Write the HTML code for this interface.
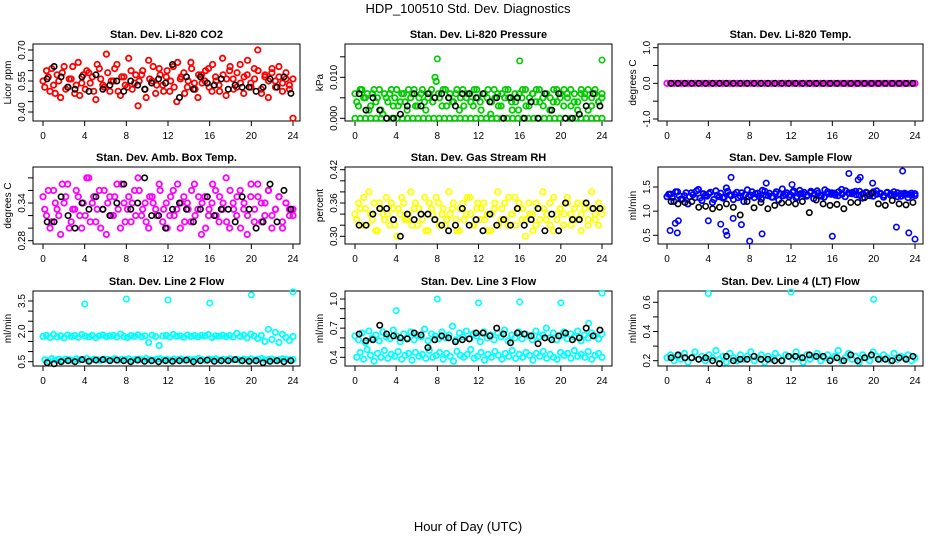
<!DOCTYPE html>
<html><head><meta charset="utf-8">
<style>
html,body{margin:0;padding:0;background:#fff;}
svg{display:block;font-family:"Liberation Sans",sans-serif;}
</style></head>
<body>
<svg id="chart" width="936" height="540" viewBox="0 0 936 540">
<text x="468" y="13" text-anchor="middle" font-size="13">HDP_100510  Std. Dev. Diagnostics</text>
<text x="468" y="531" text-anchor="middle" font-size="13">Hour of Day (UTC)</text>
</svg>
<script>
// ---- data ----
const hourTicks = [0,4,8,12,16,20,24];
const p1Color = [0.55,0.60,0.50,0.53,0.58,0.47,0.62,0.52,0.56,0.49,0.64,0.54,0.51,0.59,0.57,0.46,0.61,0.53,0.68,0.50,0.55,0.63,0.48,0.57,0.52,0.60,0.54,0.43,0.58,0.51,0.65,0.55,0.49,0.61,0.53,0.57,0.50,0.62,0.45,0.56,0.59,0.52,0.64,0.54,0.47,0.58,0.55,0.61,0.50,0.57,0.53,0.66,0.48,0.60,0.56,0.52,0.63,0.49,0.58,0.54,0.61,0.70,0.51,0.57,0.47,0.59,0.55,0.62,0.50,0.56,0.53,0.37];
const p1Color2 = [0.52,0.57,0.61,0.49,0.55,0.59,0.51,0.56,0.62,0.53,0.48,0.58,0.60,0.54,0.50,0.63,0.56,0.52,0.59,0.55,0.61,0.50,0.57,0.53,0.66,0.51,0.58,0.55,0.60,0.47,0.56,0.62,0.53,0.58,0.50,0.60,0.55,0.52,0.64,0.57,0.49,0.55,0.61,0.51,0.58,0.54,0.60,0.52,0.63,0.55,0.50,0.58,0.56,0.62,0.51,0.59,0.54,0.57,0.65,0.52,0.56,0.60,0.49,0.58,0.55,0.61,0.52,0.57,0.54,0.59,0.51,0.56];
const p1Black = [0.56,0.62,0.57,0.52,0.51,0.57,0.50,0.58,0.51,0.53,0.55,0.50,0.55,0.53,0.51,0.54,0.56,0.54,0.63,0.47,0.57,0.51,0.57,0.54,0.53,0.56,0.51,0.53,0.52,0.52,0.50,0.52,0.56,0.52,0.57,0.49];
const p2Color = [0.006,0.003,0.007,0.005,0.002,0.006,0.004,0.007,0.001,0.005,0.006,0.003,0.007,0.004,0.006,0.002,0.005,0.007,0.003,0.006,0.004,0.005,0.007,0.010,0.006,0.003,0.007,0.005,0.004,0.006,0.002,0.007,0.005,0.006,0.003,0.007,0.004,0.006,0.005,0.001,0.007,0.006,0.003,0.005,0.007,0.004,0.006,0.002,0.005,0.007,0.003,0.006,0.004,0.007,0.005,0.006,0.002,0.004,0.007,0.005,0.003,0.006,0.007,0.004,0.002,0.006,0.005,0.007,0.003,0.006,0.004,0.005];
const p2Color2 = [0.004,0.007,0.005,0.006,0.003,0.007,0.005,0.002,0.006,0.004,0.007,0.005,0.003,0.006,0.004,0.007,0.006,0.003,0.005,0.007,0.002,0.006,0.004,0.009,0.005,0.007,0.003,0.006,0.004,0.007,0.005,0.003,0.006,0.004,0.007,0.005,0.002,0.006,0.007,0.004,0.005,0.003,0.006,0.007,0.005,0.002,0.004,0.006,0.007,0.003,0.005,0.006,0.007,0.004,0.003,0.006,0.005,0.007,0.004,0.006,0.007,0.005,0.003,0.006,0.004,0.007,0.006,0.002,0.005,0.007,0.004,0.006];
const p2Zero = [0,0,0,0,0,0,0,0,0,0,0,0,0,0,0,0,0,0,0,0,0,0,0,0,0,0,0,0,0,0,0,0,0,0,0,0,0,0,0,0,0,0,0,0,0,0,0,0];
const p2OutHours = [8,16,24];
const p2OutValues = [0.0145,0.014,0.0142];
const p2Black = [0.006,0.002,0.005,0.002,0.000,0.000,0.001,0.003,0.006,0.003,0.006,0.005,0.006,0.005,0.003,0.006,0.006,0.005,0.006,0.004,0.005,0.000,0.005,0.005,0.000,0.004,0.000,0.006,0.002,0.006,0.000,0.000,0.001,0.003,0.006,0.003];
const p3Color = [0,0,0,0,0,0,0,0,0,0,0,0,0,0,0,0,0,0,0,0,0,0,0,0,0,0,0,0,0,0,0,0,0,0,0,0,0,0,0,0,0,0,0,0,0,0,0,0,0,0,0,0,0,0,0,0,0,0,0,0,0,0,0,0,0,0,0,0,0,0,0,0];
const p3Black = [0,0,0,0,0,0,0,0,0,0,0,0,0,0,0,0,0,0,0,0,0,0,0,0,0,0,0,0,0,0,0,0,0,0,0,0];
const p4Color = [0.35,0.32,0.30,0.36,0.33,0.29,0.34,0.37,0.31,0.33,0.35,0.30,0.32,0.38,0.34,0.31,0.36,0.33,0.29,0.35,0.32,0.37,0.30,0.34,0.33,0.31,0.36,0.38,0.32,0.34,0.30,0.35,0.33,0.37,0.31,0.34,0.32,0.36,0.33,0.30,0.35,0.34,0.31,0.37,0.33,0.29,0.35,0.32,0.34,0.36,0.31,0.33,0.38,0.30,0.34,0.32,0.36,0.33,0.29,0.35,0.31,0.37,0.34,0.32,0.36,0.30,0.33,0.35,0.31,0.34,0.32,0.33];
const p4Color2 = [0.33,0.36,0.31,0.34,0.32,0.37,0.35,0.30,0.33,0.36,0.32,0.34,0.38,0.31,0.35,0.33,0.30,0.36,0.34,0.32,0.35,0.33,0.37,0.31,0.35,0.34,0.32,0.36,0.33,0.31,0.35,0.34,0.32,0.36,0.33,0.30,0.35,0.32,0.37,0.34,0.31,0.33,0.36,0.32,0.35,0.34,0.30,0.33,0.37,0.32,0.35,0.34,0.31,0.36,0.33,0.35,0.30,0.34,0.32,0.37,0.33,0.35,0.31,0.34,0.36,0.32,0.33,0.35,0.30,0.34,0.33,0.32];
const p4Black = [0.31,0.31,0.35,0.32,0.30,0.34,0.33,0.35,0.33,0.32,0.34,0.37,0.33,0.34,0.38,0.32,0.32,0.30,0.33,0.34,0.33,0.31,0.33,0.35,0.32,0.33,0.33,0.31,0.35,0.33,0.30,0.31,0.37,0.31,0.36,0.33];
const p5Color = [0.34,0.36,0.32,0.35,0.38,0.33,0.31,0.36,0.34,0.37,0.32,0.35,0.30,0.34,0.36,0.33,0.38,0.35,0.32,0.34,0.37,0.31,0.35,0.33,0.36,0.34,0.32,0.38,0.35,0.33,0.31,0.36,0.34,0.37,0.32,0.35,0.33,0.36,0.34,0.31,0.35,0.38,0.33,0.36,0.32,0.34,0.37,0.35,0.33,0.30,0.36,0.34,0.32,0.35,0.38,0.33,0.36,0.31,0.34,0.35,0.32,0.37,0.34,0.33,0.36,0.31,0.35,0.33,0.38,0.34,0.32,0.35];
const p5Color2 = [0.33,0.35,0.37,0.32,0.34,0.36,0.31,0.35,0.33,0.34,0.36,0.32,0.35,0.37,0.33,0.34,0.32,0.36,0.35,0.33,0.31,0.36,0.34,0.37,0.32,0.35,0.33,0.34,0.36,0.31,0.35,0.33,0.37,0.34,0.32,0.36,0.35,0.33,0.31,0.34,0.36,0.32,0.35,0.33,0.37,0.34,0.32,0.36,0.35,0.33,0.34,0.31,0.36,0.33,0.35,0.34,0.32,0.37,0.33,0.35,0.34,0.36,0.32,0.35,0.33,0.34,0.36,0.32,0.35,0.33,0.36,0.34];
const p5Black = [0.32,0.32,0.34,0.35,0.35,0.33,0.30,0.34,0.33,0.34,0.34,0.33,0.32,0.31,0.32,0.35,0.32,0.33,0.31,0.34,0.32,0.33,0.32,0.35,0.32,0.33,0.35,0.31,0.34,0.31,0.36,0.33,0.33,0.36,0.35,0.35];
const p6Color = [1.30,1.35,1.20,1.40,1.25,1.32,1.15,1.38,1.28,1.45,1.22,1.33,1.36,1.18,1.42,1.30,1.27,1.48,1.34,1.24,1.39,1.31,1.20,1.44,1.33,1.28,1.37,1.25,1.41,1.32,1.29,1.36,1.23,1.46,1.34,1.30,1.39,1.27,1.43,1.35,1.31,1.38,1.26,1.42,1.33,1.29,1.40,1.35,1.37,1.32,1.45,1.30,1.38,1.36,1.41,1.33,1.27,1.39,1.35,1.31,1.42,1.36,1.29,1.38,1.33,1.40,1.30,1.36,1.34,1.28,1.37,1.32];
const p6Color2 = [1.35,1.28,1.40,1.32,1.25,1.38,1.30,1.34,1.42,1.27,1.36,1.31,1.39,1.24,1.33,1.37,1.29,1.41,1.32,1.35,1.28,1.38,1.34,1.30,1.40,1.36,1.31,1.43,1.33,1.37,1.29,1.40,1.35,1.32,1.38,1.34,1.42,1.30,1.36,1.39,1.33,1.41,1.35,1.37,1.31,1.44,1.36,1.38,1.33,1.40,1.35,1.42,1.37,1.39,1.34,1.41,1.36,1.38,1.32,1.40,1.35,1.37,1.33,1.39,1.36,1.34,1.38,1.31,1.37,1.35,1.33,1.36];
const p6OutHours = [0.3,0.8,1.0,1.1,4.0,5.2,5.7,5.8,6.2,6.4,7.2,8.0,9.2,16.0,17.6,18.5,18.7,22.2,22.8,23.4,24,12.1,9.6,19.9];
const p6OutValues = [0.6,0.75,0.55,0.8,0.8,0.73,0.58,0.5,1.7,0.85,0.72,0.38,0.53,0.48,1.78,1.65,1.7,0.67,1.83,0.55,0.42,1.55,1.58,1.58];
const p6Black = [1.20,1.15,1.18,1.20,1.08,1.10,1.05,1.08,1.15,1.08,0.92,1.20,1.07,1.18,1.05,1.12,1.17,1.18,1.15,1.20,0.97,1.23,1.15,1.12,1.14,1.05,1.18,1.18,1.28,1.37,1.15,1.12,1.22,1.15,1.13,1.18];
const p7Color = [1.75,1.80,1.70,1.85,1.72,1.78,1.68,1.82,1.75,1.79,1.71,1.84,1.76,1.73,1.80,1.69,1.78,1.82,1.74,1.77,1.80,1.72,1.86,1.75,1.70,1.79,1.76,1.83,1.73,1.78,1.45,1.81,1.74,1.30,1.77,1.80,1.72,1.85,1.76,1.78,1.71,1.82,1.75,1.79,1.73,1.80,1.77,1.84,1.70,1.78,1.76,1.81,1.74,1.79,1.72,1.90,1.75,1.82,1.68,1.86,1.77,1.65,1.80,1.50,2.10,1.60,1.95,1.45,1.85,1.70,1.55,1.75];
const p7Lower = [0.60,0.55,0.65,0.58,0.62,0.57,0.63,0.60,0.56,0.64,0.59,0.61,0.66,0.58,0.62,0.60,0.57,0.63,0.61,0.59,0.65,0.58,0.62,0.60,0.64,0.57,0.61,0.63,0.59,0.66,0.60,0.58,0.62,0.65,0.59,0.61,0.57,0.63,0.60,0.64,0.58,0.62,0.59,0.61,0.66,0.60,0.57,0.63,0.61,0.64,0.58,0.62,0.60,0.65,0.59,0.61,0.57,0.63,0.60,0.64,0.58,0.62,0.66,0.59,0.61,0.63,0.57,0.60,0.64,0.62,0.59,0.61];
const p7OutHours = [4,8,12,16,20,24];
const p7OutValues = [3.35,3.6,3.55,3.4,3.8,3.95];
const p7Black = [0.45,0.40,0.50,0.55,0.50,0.60,0.52,0.58,0.60,0.55,0.58,0.55,0.50,0.58,0.52,0.55,0.50,0.55,0.52,0.55,0.58,0.50,0.55,0.58,0.52,0.55,0.55,0.60,0.55,0.52,0.55,0.45,0.52,0.55,0.50,0.55];
const p8Color = [0.62,0.58,0.65,0.55,0.67,0.60,0.63,0.57,0.66,0.61,0.59,0.68,0.62,0.56,0.64,0.60,0.66,0.58,0.63,0.61,0.69,0.57,0.64,0.62,0.59,0.66,0.60,0.63,0.72,0.58,0.65,0.61,0.67,0.59,0.64,0.62,0.56,0.66,0.60,0.63,0.58,0.65,0.61,0.68,0.57,0.63,0.60,0.66,0.59,0.64,0.62,0.58,0.67,0.61,0.63,0.70,0.60,0.65,0.58,0.62,0.66,0.59,0.64,0.61,0.67,0.57,0.63,0.60,0.65,0.62,0.59,0.64];
const p8Lower = [0.40,0.45,0.38,0.48,0.42,0.36,0.44,0.40,0.47,0.39,0.43,0.41,0.46,0.38,0.42,0.44,0.37,0.45,0.41,0.43,0.39,0.47,0.40,0.42,0.45,0.38,0.44,0.41,0.36,0.46,0.42,0.40,0.43,0.48,0.39,0.41,0.45,0.37,0.43,0.40,0.46,0.42,0.38,0.44,0.41,0.47,0.39,0.43,0.40,0.45,0.42,0.37,0.44,0.41,0.46,0.39,0.43,0.40,0.38,0.45,0.42,0.44,0.39,0.47,0.41,0.43,0.40,0.46,0.38,0.42,0.44,0.40];
const p8OutHours = [4,8,12,16,20,24,22.7];
const p8OutValues = [0.88,1.0,0.96,0.97,0.96,1.06,0.75];
const p8Black = [0.64,0.57,0.58,0.73,0.64,0.62,0.60,0.59,0.65,0.63,0.50,0.58,0.62,0.60,0.56,0.58,0.59,0.65,0.65,0.62,0.70,0.64,0.55,0.65,0.64,0.62,0.54,0.60,0.58,0.62,0.65,0.58,0.60,0.70,0.62,0.68];
const p9Color = [0.22,0.24,0.20,0.23,0.21,0.25,0.19,0.22,0.26,0.21,0.23,0.20,0.24,0.22,0.27,0.21,0.23,0.19,0.25,0.22,0.20,0.24,0.21,0.23,0.26,0.20,0.22,0.24,0.19,0.23,0.21,0.25,0.22,0.20,0.24,0.23,0.21,0.26,0.22,0.19,0.24,0.21,0.23,0.25,0.20,0.22,0.24,0.21,0.23,0.27,0.20,0.22,0.25,0.21,0.23,0.19,0.24,0.22,0.20,0.26,0.23,0.21,0.24,0.22,0.20,0.25,0.21,0.23,0.22,0.24,0.20,0.22];
const p9OutHours = [4,12,20];
const p9OutValues = [0.66,0.67,0.62];
const p9Black = [0.22,0.24,0.22,0.22,0.21,0.22,0.20,0.18,0.23,0.20,0.21,0.21,0.23,0.21,0.21,0.20,0.20,0.23,0.23,0.22,0.24,0.23,0.23,0.20,0.22,0.20,0.24,0.20,0.22,0.24,0.21,0.21,0.20,0.22,0.21,0.23];
const p1Ticks = [0.40,0.45,0.50,0.55,0.60,0.65,0.70];
const p1Labels = ["0.40","0.55","0.70"];
const p2Ticks = [0.000,0.005,0.010,0.015];
const p2Labels = ["0.000","0.010"];
const p3Ticks = [-1.0,-0.5,0.0,0.5,1.0];
const p3Labels = ["-1.0","0.0","1.0"];
const p4Ticks = [0.28,0.30,0.32,0.34,0.36,0.38];
const p4Labels = ["0.28","0.34"];
const p5Ticks = [0.30,0.32,0.34,0.36,0.38,0.40,0.42];
const p5Labels = ["0.30","0.36","0.42"];
const p6Ticks = [0.5,1.0,1.5];
const p6Labels = ["0.5","1.0","1.5"];
const p7Ticks = [0.5,1.0,1.5,2.0,2.5,3.0,3.5];
const p7Labels = ["0.5","2.0","3.5"];
const p8Ticks = [0.4,0.5,0.6,0.7,0.8,0.9,1.0];
const p8Labels = ["0.4","0.7","1.0"];
const p9Ticks = [0.2,0.3,0.4,0.5,0.6];
const p9Labels = ["0.2","0.4","0.6"];

// ---- layout ----
const NS = "http://www.w3.org/2000/svg";
const svg = document.getElementById('chart');
const cols = [{l:33,r:300,x0:43,x24:293},{l:345,r:612,x0:355,x24:602},{l:658,r:923,x0:667,x24:915}];
const rows = [{t:44,b:121},{t:167,b:244},{t:291,b:366}];

function mk(tag, attrs){
  const e = document.createElementNS(NS, tag);
  for (const k in attrs) e.setAttribute(k, attrs[k]);
  return e;
}

function drawPanel(p){
  const c = cols[p.col], r = rows[p.row];
  const g = mk('g', {});
  
  
  svg.appendChild(g);
  const xs = h => c.x0 + (c.x24 - c.x0) * h / 24;
  const ys = v => p.p1 + (p.p2 - p.p1) * (v - p.v1) / (p.v2 - p.v1);

  const title = mk('text', {x:(c.l+c.r)/2, y:r.t-6, 'text-anchor':'middle', 'font-size':11, 'font-weight':'bold'});
  title.textContent = p.title;
  
  
  g.appendChild(title);

  const frame = mk('rect', {x:c.l, y:r.t, width:c.r-c.l, height:r.b-r.t, fill:'none', stroke:'#000', 'stroke-width':1});
  
  
  g.appendChild(frame);

  hourTicks.forEach(h => {
    const x = xs(h);
    const t = mk('line', {x1:x, x2:x, y1:r.b, y2:r.b+5, stroke:'#000'});
    
    
    g.appendChild(t);
    const lb = mk('text', {x:x, y:r.b+18, 'text-anchor':'middle', 'font-size':10});
    lb.textContent = h;
    
    
    g.appendChild(lb);
  });
  p.ticks.forEach(v => {
    const y = ys(v);
    const t = mk('line', {x1:c.l-5, x2:c.l, y1:y, y2:y, stroke:'#000'});
    
    
    g.appendChild(t);
  });
  p.labels.forEach(s => {
    const y = ys(parseFloat(s));
    const lb = mk('text', {x:0, y:0, 'text-anchor':'middle', 'font-size':10, transform:`translate(${c.l-8},${y}) rotate(-90)`});
    lb.textContent = s;
    
    
    g.appendChild(lb);
  });
  const yt = mk('text', {x:0, y:0, 'text-anchor':'middle', 'font-size':10, transform:`translate(${c.l-22},${(r.t+r.b)/2}) rotate(-90)`});
  yt.textContent = p.ylab;
  
  
  g.appendChild(yt);

  function pt(h, v, col, sw){
    const e = mk('circle', {cx:xs(h), cy:ys(v), r:2.7, fill:'none', stroke:col, 'stroke-width':sw});
    
    
    g.appendChild(e);
  }
  p.colored.forEach((arr, k) => arr.forEach((v,i) => {
    const off = (k % 2) ? 0.17 : 0;
    pt(off + i*(24-off)/(arr.length-1), v, p.color, 1.8);
  }));
  if (p.outH) p.outH.forEach((h,i) => pt(h, p.outV[i], p.color, 1.6));
  p.black.forEach((v,i) => pt(0.4 + i*23.4/(p.black.length-1), v, '#000', 1.6));
}

drawPanel({name:'panel-co2', col:0,row:0,title:'Stan. Dev. Li-820 CO2',ylab:'Licor ppm',color:'#ff0000',v1:0.70,p1:50,v2:0.40,p2:112,ticks:p1Ticks,labels:p1Labels,colored:[p1Color,p1Color2],black:p1Black});
drawPanel({name:'panel-pressure', col:1,row:0,title:'Stan. Dev. Li-820 Pressure',ylab:'kPa',color:'#00cc00',v1:0.010,p1:77.3,v2:0,p2:118.3,ticks:p2Ticks,labels:p2Labels,colored:[p2Color,p2Color2,p2Zero],outH:p2OutHours,outV:p2OutValues,black:p2Black});
drawPanel({name:'panel-temp', col:2,row:0,title:'Stan. Dev. Li-820 Temp.',ylab:'degrees C',color:'#ff00ff',v1:1,p1:47.7,v2:-1,p2:119,ticks:p3Ticks,labels:p3Labels,colored:[p3Color],black:p3Black});
drawPanel({name:'panel-box-temp', col:0,row:1,title:'Stan. Dev. Amb. Box Temp.',ylab:'degrees C',color:'#ff00ff',v1:0.34,p1:203,v2:0.28,p2:240.7,ticks:p4Ticks,labels:p4Labels,colored:[p4Color,p4Color2],black:p4Black});
drawPanel({name:'panel-rh', col:1,row:1,title:'Stan. Dev. Gas Stream RH',ylab:'percent',color:'#ffff00',v1:0.42,p1:169.7,v2:0.30,p2:236.3,ticks:p5Ticks,labels:p5Labels,colored:[p5Color,p5Color2],black:p5Black});
drawPanel({name:'panel-sample-flow', col:2,row:1,title:'Stan. Dev. Sample Flow',ylab:'ml/min',color:'#0000ff',v1:1.5,p1:187,v2:0.5,p2:235.3,ticks:p6Ticks,labels:p6Labels,colored:[p6Color,p6Color2],outH:p6OutHours,outV:p6OutValues,black:p6Black});
drawPanel({name:'panel-line2', col:0,row:2,title:'Stan. Dev. Line 2 Flow',ylab:'ml/min',color:'#00ffff',v1:3.5,p1:301,v2:0.5,p2:361.7,ticks:p7Ticks,labels:p7Labels,colored:[p7Color,p7Lower],outH:p7OutHours,outV:p7OutValues,black:p7Black});
drawPanel({name:'panel-line3', col:1,row:2,title:'Stan. Dev. Line 3 Flow',ylab:'ml/min',color:'#00ffff',v1:1.0,p1:299,v2:0.4,p2:357.3,ticks:p8Ticks,labels:p8Labels,colored:[p8Color,p8Lower],outH:p8OutHours,outV:p8OutValues,black:p8Black});
drawPanel({name:'panel-line4', col:2,row:2,title:'Stan. Dev. Line 4 (LT) Flow',ylab:'ml/min',color:'#00ffff',v1:0.6,p1:302.3,v2:0.2,p2:360.7,ticks:p9Ticks,labels:p9Labels,colored:[p9Color],outH:p9OutHours,outV:p9OutValues,black:p9Black});
</script>
</body></html>
